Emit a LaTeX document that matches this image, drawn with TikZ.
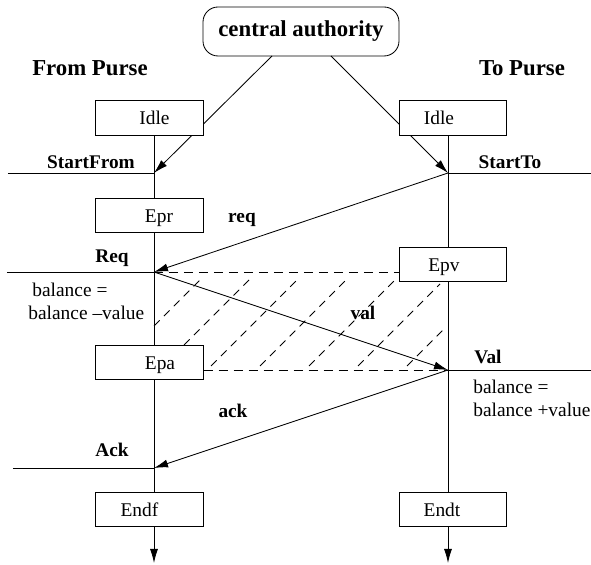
\documentclass[tikz,border=0pt]{standalone}
\usepackage{fontspec}
\setmainfont{Liberation Serif}
\usetikzlibrary{arrows.meta}
\begin{document}
\begin{tikzpicture}[x=0.5pt,y=-0.5pt,
  line width=0.42pt,
  box/.style={draw, fill=white, minimum width=53.75pt, minimum height=17.25pt, inner sep=0pt},
  txt/.style={font=\fontsize{9.7pt}{11.6pt}\selectfont, inner sep=0pt, anchor=base},
  ev/.style={font=\fontsize{9.65pt}{11.5pt}\selectfont\bfseries, inner sep=0pt, anchor=base},
  head/.style={font=\fontsize{11.4pt}{13.5pt}\selectfont\bfseries, inner sep=0pt, anchor=base},
  msg/.style={-{Latex[length=7pt,width=4pt]}},
  hatch/.style={dash pattern=on 4pt off 3pt},
  dashline/.style={dash pattern=on 4.5pt off 3pt},
]
\useasboundingbox (0,0) rectangle (591,565);

% event points
\coordinate (sf) at (154,173);
\coordinate (st) at (448,173);
\coordinate (rq) at (154,272);
\coordinate (vl) at (448,370);
\coordinate (ak) at (154,468);
\coordinate (caL) at (272,56);
\coordinate (caR) at (331,56);
\coordinate (sfL) at (8,173);
\coordinate (stR) at (591,173);
\coordinate (rqL) at (7,272);
\coordinate (vlR) at (591,370);
\coordinate (akL) at (13,468);
\coordinate (endfD) at (154,563);
\coordinate (endtD) at (448,563);

% central authority
\node[draw, rounded corners=7.5pt, minimum width=98pt, minimum height=24.5pt, inner sep=0pt,
      font=\fontsize{11.4pt}{13.5pt}\selectfont\bfseries] (ca) at (301,31.5) {central authority};

% box centres
\path (149.5,118) coordinate (idleLc) (453,118) coordinate (idleRc)
      (149.5,215.5) coordinate (eprc) (453,264.5) coordinate (epvc)
      (149.5,362.5) coordinate (epac) (149.5,509.5) coordinate (endfc)
      (453,509.5) coordinate (endtc);

% lifelines
\draw (154,135) -- (154,492);
\draw (448,135) -- (448,492);

% event lines
\draw (sfL) -- (sf);
\draw (st) -- (stR);
\draw (rqL) -- (rq);
\draw (vl) -- (vlR);
\draw (akL) -- (ak);

% hatching
\draw[hatch] (154,326) -- (203,277);
\draw[hatch] (184,345) -- (252,277);
\draw[hatch] (211,366) -- (300,277);
\draw[hatch] (260,366) -- (349,277);
\draw[hatch] (309,366) -- (398,277);
\draw[hatch] (358,366) -- (440,284);
\draw[hatch] (407,366) -- (443,330);

% boxes
\node[box] (idleL) at (idleLc) {};
\node[box] (idleR) at (idleRc) {};
\node[box] (epr) at (eprc) {};
\node[box] (epv) at (epvc) {};
\node[box] (epa) at (epac) {};
\node[box] (endf) at (endfc) {};
\node[box] (endt) at (endtc) {};

% dashed boundaries
\draw[dashline] (rq) -- (rq -| epv.west);
\draw[dashline] (epa.east |- vl) -- (vl);

% messages
\draw[msg] (caL) -- (sf);
\draw[msg] (caR) -- (st);
\draw[msg] (st) -- (rq);
\draw[msg] (rq) -- (vl);
\draw[msg] (vl) -- (ak);
\draw[msg] (sf |- endf.south) -- (endfD);
\draw[msg] (st |- endt.south) -- (endtD);

% redraw Idle boxes over the central arrows
\node[box] at (idleLc) {};
\node[box] at (idleRc) {};

% texts
\node[head] (fromT) at (90,76) {From Purse};
\node[head] (toT) at (522,76) {To Purse};
\node[txt] (idleLT) at (154.5,125) {Idle};
\node[txt] (idleRT) at (439,125) {Idle};
\node[ev] (sfT) at (91,169) {StartFrom};
\node[ev] (stT) at (510,169) {StartTo};
\node[txt] (eprT) at (159,223) {Epr};
\node[ev] (reqT) at (242,223) {req};
\node[ev] (ReqT) at (112,263) {Req};
\node[txt] (epvT) at (444,272) {Epv};
\node[txt, anchor=base west] (balL1) at (32,297) {balance =};
\node[txt, anchor=base west] (balL2) at (28,320) {balance –value};
\node[ev] (valT) at (363,320) {val};
\node[ev] (ValT) at (488,364) {Val};
\node[txt] (epaT) at (160,370) {Epa};
\node[txt, anchor=base west] (balR1) at (473,394) {balance =};
\node[txt, anchor=base west] (balR2) at (473,417) {balance +value};
\node[ev] (ackT) at (233,418) {ack};
\node[ev] (AckT) at (112,457) {Ack};
\node[txt] (endfT) at (139.5,517) {Endf};
\node[txt] (endtT) at (442,517) {Endt};
\end{tikzpicture}
\end{document}
